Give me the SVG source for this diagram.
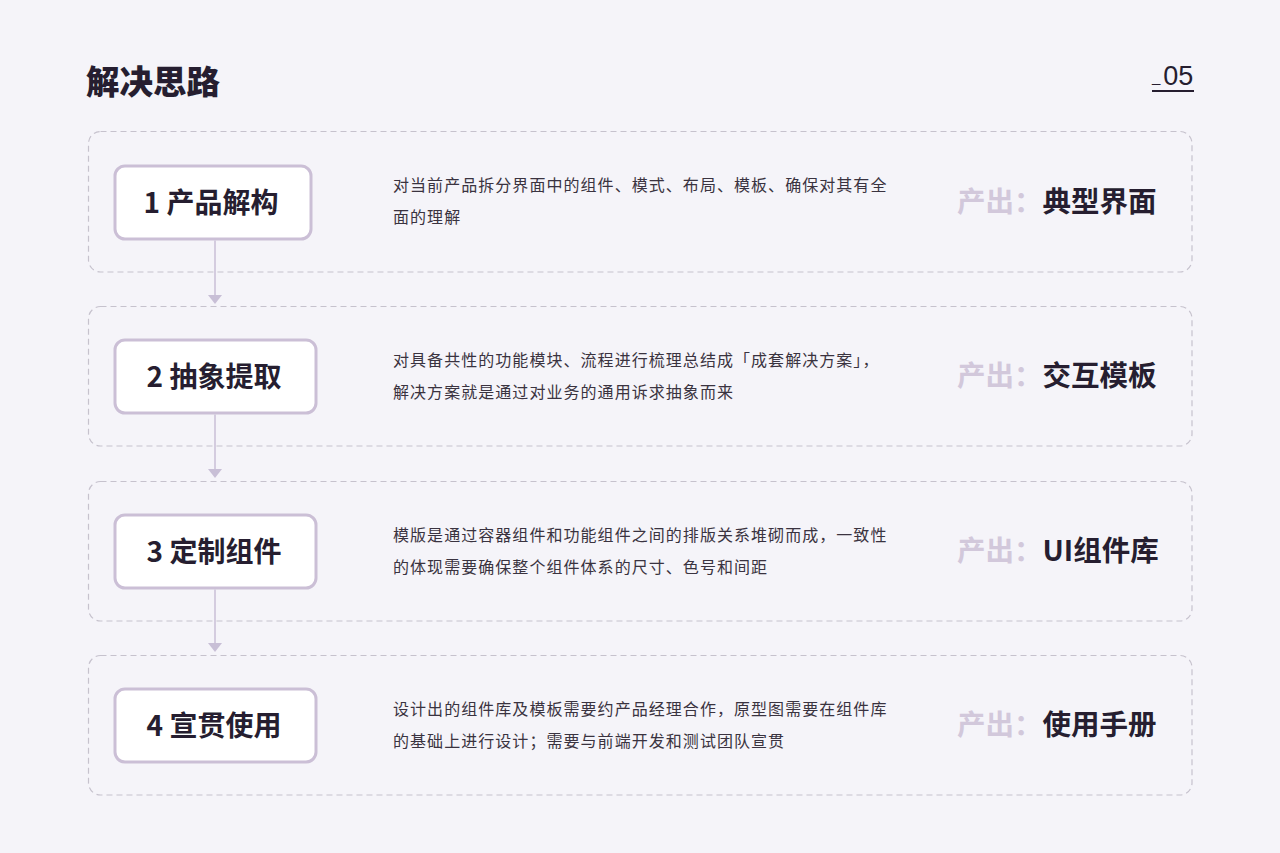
<svg xmlns="http://www.w3.org/2000/svg" width="1280" height="853" viewBox="0 0 1280 853">
<defs>
<style>
.bg{fill:#f5f4f9}
.panel{fill:#f5f4f9;stroke:#c6c2cd;stroke-width:1.2;stroke-dasharray:6 4}
.box{fill:#ffffff;stroke:#cbbfd6;stroke-width:3}
.lbl{font-family:"Noto Sans CJK SC","Noto Sans",sans-serif;font-weight:700;font-size:28px;fill:#261e30;text-anchor:middle}
.desc{font-family:"Noto Sans CJK SC","Noto Sans",sans-serif;font-size:16px;fill:#3a3340;letter-spacing:1.05px}
.out{font-family:"Noto Sans CJK SC","Noto Sans",sans-serif;font-weight:700;font-size:28.5px;fill:#261e30}
.outk{fill:#d2c8db}
.conn{stroke:#c8bfd6;stroke-width:1.5;fill:none}
.head{fill:#c8bfd6}
</style>
</defs>
<rect class="bg" x="0" y="0" width="1280" height="853"/>
<text x="86" y="94" font-family="'Noto Sans CJK SC',sans-serif" font-weight="900" font-size="33.5" fill="#261e30">解决思路</text>
<g id="page-number">
<text x="1152" y="85" font-family="'Liberation Sans',Arial,sans-serif" font-size="27" fill="#261e30"><tspan font-size="15" dy="-3">_</tspan><tspan dx="3" dy="3">05</tspan></text>
<line x1="1152" y1="91" x2="1194" y2="91" stroke="#261e30" stroke-width="2"/>
</g>

<g id="row1">
<rect class="panel" x="88.5" y="131.5" width="1103.5" height="140.5" rx="12"/>
<g id="node1"><rect class="box" x="115" y="166" width="196" height="73" rx="10"/>
<text class="lbl" x="211" y="213">1 产品解构</text></g>
<text class="desc" x="393" y="191">对当前产品拆分界面中的组件、模式、布局、模板、确保对其有全</text>
<text class="desc" x="393" y="223">面的理解</text>
<text class="out" x="957" y="212"><tspan class="outk">产出：</tspan>典型界面</text>
</g>

<g id="row2">
<rect class="panel" x="88.5" y="306.5" width="1103.5" height="139.5" rx="12"/>
<g id="node2"><rect class="box" x="115" y="340" width="201" height="73" rx="10"/>
<text class="lbl" x="214" y="387">2 抽象提取</text></g>
<text class="desc" x="393" y="366">对具备共性的功能模块、流程进行梳理总结成「成套解决方案」，</text>
<text class="desc" x="393" y="398">解决方案就是通过对业务的通用诉求抽象而来</text>
<text class="out" x="957" y="386"><tspan class="outk">产出：</tspan>交互模板</text>
</g>

<g id="row3">
<rect class="panel" x="88.5" y="481.5" width="1103.5" height="139.5" rx="12"/>
<g id="node3"><rect class="box" x="115" y="515" width="201" height="73" rx="10"/>
<text class="lbl" x="214" y="562">3 定制组件</text></g>
<text class="desc" x="393" y="541">模版是通过容器组件和功能组件之间的排版关系堆砌而成，一致性</text>
<text class="desc" x="393" y="573">的体现需要确保整个组件体系的尺寸、色号和间距</text>
<text class="out" x="957" y="561"><tspan class="outk">产出：</tspan>UI组件库</text>
</g>

<g id="row4">
<rect class="panel" x="88.5" y="655.5" width="1103.5" height="139.5" rx="12"/>
<g id="node4"><rect class="box" x="115" y="689" width="201" height="73" rx="10"/>
<text class="lbl" x="214" y="736">4 宣贯使用</text></g>
<text class="desc" x="393" y="715">设计出的组件库及模板需要约产品经理合作，原型图需要在组件库</text>
<text class="desc" x="393" y="747">的基础上进行设计；需要与前端开发和测试团队宣贯</text>
<text class="out" x="957" y="735"><tspan class="outk">产出：</tspan>使用手册</text>
</g>

<g id="connectors">
<line class="conn" x1="215" y1="240.5" x2="215" y2="296"/>
<polygon class="head" points="208,295 222,295 215,304"/>
<line class="conn" x1="215" y1="414.5" x2="215" y2="470"/>
<polygon class="head" points="208,469 222,469 215,478"/>
<line class="conn" x1="215" y1="589.5" x2="215" y2="644"/>
<polygon class="head" points="208,643 222,643 215,652"/>
</g>
</svg>
